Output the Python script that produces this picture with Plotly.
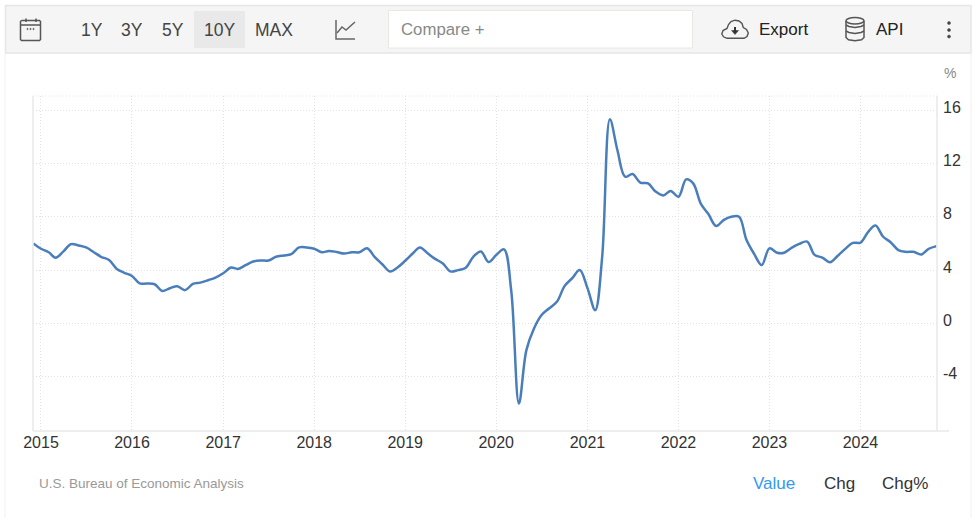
import plotly.graph_objects as go
import pandas as pd

months = pd.date_range("2014-12-01", "2024-11-01", freq="MS")
rate_2015 = [6.0, 5.6, 5.34, 4.93, 5.4, 5.95, 5.85, 5.7, 5.34, 4.98, 4.76, 4.09, 3.8]
rate_2016 = [3.56, 3.0, 3.0, 2.94, 2.44, 2.64, 2.79, 2.5, 2.96, 3.06, 3.24, 3.44]
rate_2017 = [3.76, 4.19, 4.09, 4.37, 4.64, 4.72, 4.72, 5.0, 5.1, 5.2, 5.7, 5.7]
rate_2018 = [5.6, 5.34, 5.44, 5.36, 5.24, 5.34, 5.34, 5.64, 4.97, 4.44, 3.9, 4.2]
rate_2019 = [4.7, 5.26, 5.7, 5.26, 4.84, 4.5, 3.9, 4.0, 4.18, 5.0, 5.4, 4.6]
rate_2020 = [5.13, 5.56, 2.5, -6.0, -2.0, -0.36, 0.63, 1.14, 1.64, 2.8, 3.4, 4.0]
rate_2021 = [2.65, 1.0, 5.0, 15.3, 13.0, 11.0, 11.2, 10.56, 10.5, 9.89, 9.6, 9.93]
rate_2022 = [9.5, 10.8, 10.5, 8.96, 8.2, 7.3, 7.75, 8.0, 8.0, 6.25, 5.2, 4.38]
rate_2023 = [5.63, 5.3, 5.3, 5.68, 5.96, 6.14, 5.14, 4.94, 4.59, 5.06, 5.59, 6.04]
rate_2024 = [6.06, 6.87, 7.34, 6.5, 6.09, 5.5, 5.37, 5.37, 5.17, 5.6, 5.8]
values = rate_2015 + rate_2016 + rate_2017 + rate_2018 + rate_2019 + rate_2020 + rate_2021 + rate_2022 + rate_2023 + rate_2024

year_ticks = [f"{y}-01-01" for y in range(2015, 2025)]
year_labels = [str(y) for y in range(2015, 2025)]
y_ticks = [-4, 0, 4, 8, 12, 16]
y_labels = ["-4", "0", "4", "8", "12", "16"]

W, H = 975, 518
L, R, T, B = 33, 937, 96, 431
def px(x): return (x - L) / (R - L)
def py(y): return (B - y) / (B - T)

shapes, annos = [], []
def rect(x0, y0, x1, y1, fill="rgba(0,0,0,0)", line="rgba(0,0,0,0)", w=1):
    shapes.append(dict(type="rect", xref="paper", yref="paper", x0=px(x0), x1=px(x1),
                       y0=py(y1), y1=py(y0), fillcolor=fill, line=dict(color=line, width=w), layer="below"))
def poly(pts, color="#555555", w=1.5, fill=None, dash="solid"):
    d = "M " + " L ".join(f"{px(a):.5f},{py(b):.5f}" for a, b in pts)
    s = dict(type="path", xref="paper", yref="paper", path=d + (" Z" if fill else ""),
             line=dict(color=color, width=w, dash=dash))
    if fill:
        s["fillcolor"] = fill
    shapes.append(s)
def oval(x0, y0, x1, y1, fill="rgba(0,0,0,0)", line="#555555", w=1.5):
    shapes.append(dict(type="circle", xref="paper", yref="paper", x0=px(x0), x1=px(x1),
                       y0=py(y1), y1=py(y0), fillcolor=fill, line=dict(color=line, width=w)))
def text(s, x, y, size=16, color="#333333", anchor="center"):
    annos.append(dict(text=s, xref="paper", yref="paper", x=px(x), y=py(y), showarrow=False,
                      xanchor=anchor, yanchor="middle", font=dict(size=size, color=color),
                      borderpad=0, borderwidth=0))

# page frame and toolbar
poly([(5, 53), (5, 518)], "#f0f0f0", 1)
poly([(971, 53), (971, 518)], "#f0f0f0", 1)
rect(5.5, 5.5, 971, 53, "#f5f5f5", "#e6e6e6", 1.5)
rect(194, 11, 245, 48, "#e9e9e9")
rect(388.5, 10.5, 692.5, 48, "#ffffff", "#e8e8e0", 1)
for s, x in [("1Y", 92), ("3Y", 132), ("5Y", 173), ("10Y", 219), ("MAX", 273.5)]:
    text(s, x, 30, 17.5, "#444444")
text("Compare +", 401, 29, 16.8, "#888888", "left")
text("Export", 759, 29, 17, "#222222", "left")
text("API", 876, 29, 17, "#222222", "left")
text("%", 950, 73, 14, "#888888")

# calendar icon
poly([(21.5, 20.5), (39.5, 20.5), (40.5, 21.5), (40.5, 39.5), (39.5, 40.5), (21.5, 40.5), (20.5, 39.5), (20.5, 21.5), (21.5, 20.5)])
poly([(20.5, 25), (40.5, 25)])
poly([(26, 18.5), (26, 22)]); poly([(36, 18.5), (36, 22)])
for xx in (27.5, 30.5, 33.5):
    oval(xx - .7, 28.3, xx + .7, 29.7, "#555555", "#555555", 0.5)
# chart icon
poly([(336, 20), (336, 39), (355, 39)], "#666666", 1.5)
poly([(337, 33), (342, 27), (346, 30), (355, 22)], "#666666", 1.5)
# cloud icon
poly([(727, 38.3), (723.5, 36.8), (721.8, 34), (723, 30.5), (727, 28.5), (728.5, 24.5), (731, 21.5),
      (735, 20.2), (739, 21), (742, 23.5), (743.3, 27.5), (746.5, 29.5), (748.3, 33), (747, 36.5),
      (744, 38.3), (727, 38.3)], "#555555", 1.4)
poly([(735, 27), (735, 31)], "#333333", 2)
poly([(731.5, 30.5), (738.5, 30.5), (735, 34.5)], "#333333", 0.5, fill="#333333")
# database icon
oval(846, 17.5, 864, 24)
poly([(846, 21), (846, 37.5), (848.5, 39.7), (855, 40.7), (861.5, 39.7), (864, 37.5), (864, 21)])
for yy in (27, 33):
    poly([(846, yy - 2), (849, yy - .5), (855, yy + .5), (861, yy - .5), (864, yy - 2)])
# menu dots
for yy in (23, 30, 36.5):
    oval(947.5, yy - 1.5, 950.5, yy + 1.5, "#444444", "#444444", 0.5)

# plot frame
poly([(33, 96), (33, 431)], "#e8e8e8", 1.5)
poly([(937, 96), (937, 431)], "#e8e8e8", 1.5)
poly([(33, 431), (949, 431)], "#e8e8e8", 1.5)
poly([(33, 96), (937, 96)], "#e4e4e4", 1, dash="1px,2px")

text("U.S. Bureau of Economic Analysis", 39, 483.5, 13.5, "#999999", "left")
text("Value", 753, 483, 17, "#3399f3", "left")
text("Chg", 824, 483, 17, "#333333", "left")
text("Chg%", 882, 483, 17, "#333333", "left")

fig = go.Figure(go.Scatter(x=months, y=values, mode="lines", hoverinfo="x+y",
                           line=dict(color="#4a7ebb", width=2.5, shape="spline", smoothing=1.0)))
fig.update_layout(
    width=W, height=H, autosize=False,
    margin=dict(l=L, r=W - R, t=T, b=H - B, pad=0),
    paper_bgcolor="#ffffff", plot_bgcolor="#ffffff", showlegend=False,
    font=dict(family="Liberation Sans, Arial, sans-serif", size=16, color="#333333"),
    shapes=shapes, annotations=annos,
    xaxis=dict(type="date", range=["2014-11-30", "2024-11-03"], tickvals=year_ticks, ticktext=year_labels,
               showgrid=True, gridcolor="#e2e2e2", griddash="1px,2px", gridwidth=1, zeroline=False,
               ticks="", showline=False, tickfont=dict(size=16, color="#333333"), tickangle=0),
    yaxis=dict(range=[-8.06, 17.05], side="right", tickvals=y_ticks, ticktext=y_labels,
               showgrid=True, gridcolor="#e2e2e2", griddash="1px,2px", gridwidth=1, zeroline=False,
               ticks="", showline=False, tickfont=dict(size=16, color="#333333"),
               ticklabelstandoff=5, ticklabelshift=-3),
)
fig.write_html("out.html", config=dict(displayModeBar=False),
               post_script="document.body.style.margin='0';document.body.style.overflow='hidden';")
